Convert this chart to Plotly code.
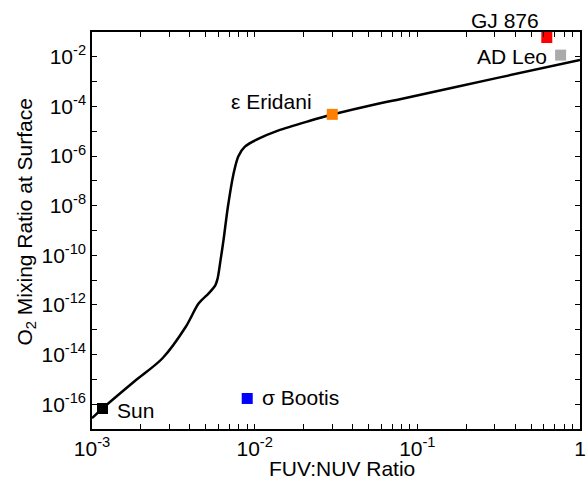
import math
import plotly.graph_objects as go

# ---- data ----
curve_fuv_nuv = [1.00e-3, 1.16e-3, 1.826e-3, 2.713e-3, 3.764e-3, 4.533e-3, 5.216e-3, 5.728e-3,
                 5.92e-3, 6.14e-3, 6.43e-3, 6.84e-3, 7.40e-3, 7.94e-3, 8.71e-3, 1.05e-2,
                 1.39e-2, 2.21e-2, 3.00e-2, 5.64e-2, 7.45e-2, 3.16e-1, 1.0]
curve_o2 = [2.74e-17, 6.7e-17, 8.4e-16, 7.1e-15, 1.29e-13, 1.16e-12, 2.93e-12, 6.15e-12,
            1.17e-11, 5.2e-11, 3.98e-10, 8.7e-9, 1.82e-7, 9.9e-7, 2.39e-6, 4.9e-6,
            1.06e-5, 2.7e-5, 4.7e-5, 1.26e-4, 1.83e-4, 1.45e-3, 7.4e-3]

star_names = ["Sun", "σ Bootis", "ε Eridani", "GJ 876", "AD Leo"]
star_fuv_nuv = [1.16e-3, 9.0e-3, 3.0e-2, 0.625, 0.76]
star_o2 = [6.7e-17, 1.7e-16, 4.8e-5, 6.0e-2, 1.17e-2]
star_colors = ["#000000", "#0000ff", "#ff8000", "#ff0000", "#aaaaaa"]

x_tick_decades = [1e-3, 1e-2, 1e-1, 1]
x_tick_labels = ["10<sup>-3</sup>", "10<sup>-2</sup>", "10<sup>-1</sup>", "1"]
y_exponents = list(range(-16, -1))

FONT = "Liberation Sans, Arial, Helvetica, sans-serif"
FS = 21

# label placement (pixel offsets from each marker)
label_style = {
    "Sun": dict(xanchor="left", xshift=13, yshift=-2),
    "σ Bootis": dict(xanchor="left", xshift=13, yshift=1),
    "ε Eridani": dict(xanchor="right", xshift=-18, yshift=13),
    "GJ 876": dict(xanchor="right", xshift=-6, yshift=17),
    "AD Leo": dict(xanchor="right", xshift=-12, yshift=-1),
}

fig = go.Figure()
fig.add_trace(go.Scatter(
    x=curve_fuv_nuv, y=curve_o2, mode="lines",
    line=dict(color="black", width=2.5, shape="spline", smoothing=0.9),
    showlegend=False, hoverinfo="skip"))

for name, xv, yv, col in zip(star_names, star_fuv_nuv, star_o2, star_colors):
    fig.add_trace(go.Scatter(
        x=[xv], y=[yv], mode="markers",
        marker=dict(symbol="square", size=11, color=col, line=dict(width=0)),
        cliponaxis=False, showlegend=False, name=name))
    # annotations on log axes take log10 positions
    fig.add_annotation(x=math.log10(xv), y=math.log10(yv), xref="x", yref="y",
                       text=name, showarrow=False, yanchor="middle",
                       font=dict(family=FONT, size=FS, color="black"),
                       **label_style[name])

# x ticks: every integer multiple inside decades, labels only at decades
x_tickvals, x_ticktext = [], []
for d_i, dec in enumerate(x_tick_decades[:-1]):
    for m in range(1, 10):
        x_tickvals.append(m * dec)
        x_ticktext.append(x_tick_labels[d_i] if m == 1 else "")
x_tickvals.append(x_tick_decades[-1])
x_ticktext.append(x_tick_labels[-1])

y_tickvals = [10.0 ** e for e in y_exponents]
y_ticktext = [("10<sup>%d</sup>" % e) if e % 2 == 0 else "" for e in y_exponents]

axis_common = dict(showline=True, linecolor="black", linewidth=1.5, mirror="ticks",
                   ticks="inside", ticklen=5, tickwidth=1, tickcolor="black",
                   showgrid=False, zeroline=False, ticklabeloverflow="allow",
                   tickfont=dict(family=FONT, size=FS, color="black"))

fig.update_layout(
    width=588, height=479,
    margin=dict(l=92, r=2.5, t=32, b=50.3),
    paper_bgcolor="white", plot_bgcolor="white",
    xaxis=dict(type="log", range=[-3, 0], tickmode="array",
               tickvals=x_tickvals, ticktext=x_ticktext, **axis_common),
    yaxis=dict(type="log", range=[-17, -1], tickmode="array",
               tickvals=y_tickvals, ticktext=y_ticktext, **axis_common),
)

fig.add_annotation(text="FUV:NUV Ratio", xref="paper", yref="paper", x=0.5, y=0,
                   xanchor="center", yanchor="middle", xshift=6, yshift=-39, showarrow=False,
                   font=dict(family=FONT, size=FS, color="black"))
fig.add_annotation(text="O<sub>2</sub> Mixing Ratio at Surface", xref="paper", yref="paper",
                   x=0, y=0.5, xanchor="center", yanchor="middle", textangle=-90,
                   xshift=-67, yshift=8, showarrow=False,
                   font=dict(family=FONT, size=FS, color="black"))

fig.write_html("out.html",
               config={"displayModeBar": False},
               post_script="document.body.style.margin='0';"
                           "document.body.style.overflow='hidden';")
